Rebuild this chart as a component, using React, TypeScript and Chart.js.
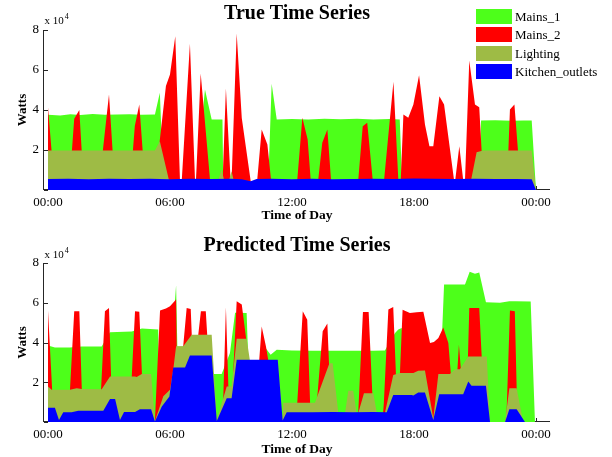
import React, { useEffect, useRef } from 'react';
import { Chart, registerables } from 'chart.js';

Chart.register(...registerables);

type Pt = [number, number]; // [hour of day, watts]

const seriesNames = ['Mains_1', 'Mains_2', 'Lighting', 'Kitchen_outlets'];
const seriesColours = ['#4dff1a', '#ff0000', '#9ebb45', '#0000ff'];
const hourTicks = [0, 6, 12, 18, 24];
const hourTickLabels = ['00:00', '06:00', '12:00', '18:00', '00:00'];
const wattTicks = [0, 20000, 40000, 60000, 80000];

// ---- measured (true) consumption ----
const trueMains1: Pt[] = [
  [0, 37600], [0.6, 37300], [1.1, 37900], [1.6, 37500], [2.2, 38000], [2.8, 37600], [3.4, 37700],
  [4.0, 37900], [4.6, 37600], [5.26, 37700], [5.5, 48600], [5.68, 4000], [7.28, 4000], [7.72, 50300],
  [8.05, 35200], [8.58, 35200], [8.62, 3000], [10.83, 3000], [11.0, 53100], [11.25, 35200], [12.0, 35500],
  [12.8, 35300], [13.6, 35600], [14.4, 35400], [15.2, 35600], [16.0, 35300], [16.8, 35500], [17.3, 35200],
  [17.42, 3000], [21.2, 3000], [21.3, 34700], [22.0, 34900], [22.8, 34600], [23.4, 34800], [23.79, 34800],
  [24.0, 0],
];
const trueMains2: Pt[] = [
  [0, 41400], [0.18, 19000], [0.3, 0],
  [1.05, 0], [1.17, 19000], [1.29, 35600], [1.54, 40000], [1.66, 19000], [1.78, 0],
  [2.58, 0], [2.69, 19000], [3.0, 47700], [3.18, 19000], [3.3, 0],
  [4.05, 0], [4.17, 19000], [4.27, 32000], [4.49, 42700], [4.66, 19000], [4.78, 0],
  [5.22, 0], [5.8, 52000], [6.0, 57800], [6.26, 76900], [6.49, 5000], [6.58, 5000], [6.98, 73100],
  [7.23, 5000], [7.28, 5000], [7.51, 58300], [7.97, 5000], [8.05, 0],
  [8.5, 0], [8.59, 5000], [8.75, 50800], [8.98, 5000], [9.03, 5000], [9.28, 78300], [9.53, 36000],
  [9.97, 4400], [10.05, 0],
  [10.2, 0], [10.29, 5000], [10.51, 30200], [10.79, 22700], [10.97, 5000], [11.05, 0],
  [12.18, 0], [12.26, 5000], [12.51, 36100], [12.77, 25200], [12.92, 5000], [13.0, 0],
  [13.2, 0], [13.29, 5000], [13.49, 23600], [13.74, 30200], [13.92, 5000], [14.0, 0],
  [15.18, 0], [15.26, 5000], [15.48, 31900], [15.7, 33600], [15.97, 5000], [16.05, 0],
  [16.45, 0], [16.53, 5000], [16.99, 54100], [17.23, 5000], [17.35, 5000], [17.48, 37800], [17.72, 36100],
  [17.97, 42700], [18.25, 57400], [18.54, 32700], [18.76, 21900], [18.95, 21900], [19.25, 46900],
  [19.48, 42700], [19.97, 5000], [20.03, 5000], [20.23, 21900], [20.42, 5000], [20.51, 5000],
  [20.72, 64800], [21.0, 42700], [21.21, 41400], [21.33, 19000], [21.45, 0],
  [22.55, 0], [22.64, 19000], [22.72, 40200], [22.94, 42700], [23.12, 19000], [23.22, 0], [24.0, 0],
];
const trueLighting: Pt[] = [
  [0, 19700], [1.0, 19800], [2.0, 19700], [3.0, 19800], [4.0, 19700], [5.26, 19700], [5.5, 24400],
  [5.97, 4000], [8.35, 4000], [8.54, 10200], [8.68, 4000], [8.88, 4000], [9.03, 9400], [9.15, 4000],
  [20.79, 4000], [21.08, 18900], [21.4, 19700], [22.5, 19700], [23.79, 19700], [24.0, 0],
];
const trueKitchen: Pt[] = [
  [0, 5500], [1.0, 5600], [2.0, 5400], [3.0, 5600], [4.0, 5500], [5.0, 5600], [6.0, 5400], [7.0, 5600],
  [8.0, 5500], [9.0, 5600], [9.53, 5400], [9.97, 4400], [10.26, 5500], [11.0, 5600], [12.0, 5400],
  [13.0, 5600], [14.0, 5400], [15.0, 5500], [16.0, 5600], [17.0, 5500], [18.0, 5700], [19.0, 5600],
  [20.0, 5500], [21.0, 5600], [22.0, 5500], [23.0, 5500], [23.79, 5400], [24.0, 0],
];

// ---- disaggregated (predicted) consumption ----
const predMains1: Pt[] = [
  [0, 38500], [0.34, 37500], [1.08, 37500], [1.66, 38000], [2.64, 38000], [3.05, 45100], [4.12, 45500],
  [4.62, 47000], [5.42, 46500], [5.5, 5000], [6.2, 55000], [6.3, 68800], [6.36, 38000], [7.9, 38000],
  [8.07, 24200], [8.54, 24200], [8.95, 34700], [9.2, 55000], [9.77, 54900], [9.85, 30000], [10.4, 30000],
  [10.72, 37000], [10.95, 33800], [11.25, 36400], [12.0, 36000], [13.0, 35800], [14.0, 35900],
  [15.0, 35800], [16.0, 35900], [16.57, 36000], [17.07, 44800], [17.23, 46500], [17.4, 47300],
  [17.5, 35000], [19.36, 39000], [19.48, 69200], [20.51, 69200], [20.74, 75600], [21.0, 74600],
  [21.21, 75200], [21.54, 60300], [22.23, 60000], [22.69, 60800], [23.0, 60700], [23.74, 60600],
  [23.95, 0],
];
const predMains2: Pt[] = [
  [0, 56100], [0.2, 17000], [0.3, 0],
  [1.0, 0], [1.08, 16000], [1.29, 55700], [1.54, 55700], [1.66, 17000], [1.75, 0],
  [2.55, 0], [2.61, 16500], [2.8, 55700], [3.0, 57400], [3.1, 23000], [3.2, 0],
  [4.05, 0], [4.12, 23000], [4.28, 55700], [4.49, 55500], [4.62, 24000], [4.7, 0],
  [5.2, 0], [5.26, 1000], [5.51, 56100], [5.8, 57100], [6.0, 58200], [6.3, 61600], [6.33, 38100], [6.4, 0],
  [6.58, 0], [6.65, 38100], [6.82, 57400], [7.02, 56900], [7.07, 43900], [7.15, 0],
  [7.33, 0], [7.39, 43900], [7.52, 55700], [7.76, 55700], [7.83, 43900], [7.9, 0],
  [8.55, 0], [8.62, 12000], [8.75, 57700], [8.87, 18000], [8.95, 0],
  [9.05, 0], [9.11, 25000], [9.28, 60700], [9.53, 59100], [9.74, 42300], [9.8, 0],
  [10.33, 0], [10.39, 31300], [10.51, 48100], [10.72, 38000], [10.83, 31300], [10.9, 0],
  [12.2, 0], [12.26, 9700], [12.53, 55700], [12.75, 51500], [12.89, 9700], [12.95, 0],
  [13.18, 0], [13.24, 12000], [13.51, 45600], [13.74, 49500], [13.82, 29600], [13.9, 0],
  [15.2, 0], [15.26, 5000], [15.49, 55400], [15.77, 55400], [15.95, 14500], [16.05, 0],
  [16.45, 0], [16.52, 10000], [16.74, 56600], [16.98, 57900], [17.11, 24600], [17.2, 0],
  [17.26, 0], [17.31, 24600], [17.44, 56500], [17.8, 54900], [18.13, 55200], [18.46, 55500],
  [18.79, 39700], [18.98, 40200], [19.2, 42300], [19.44, 47600], [19.69, 39700], [19.81, 24600], [19.9, 0],
  [20.08, 0], [20.13, 25000], [20.21, 38900], [20.31, 26000], [20.36, 0],
  [20.58, 0], [20.65, 31000], [20.72, 57400], [21.21, 57400], [21.33, 33000], [21.4, 0],
  [22.5, 0], [22.56, 6000], [22.72, 56100], [22.96, 55700], [23.05, 17000], [23.12, 0], [24.0, 0],
];
const predLighting: Pt[] = [
  [0, 17800], [0.18, 16200], [1.08, 16200], [1.41, 17000], [1.66, 16600], [2.64, 16500], [3.05, 22900],
  [4.28, 22900], [4.36, 22600], [4.61, 24100], [5.07, 24100], [5.26, 500], [5.67, 13000], [6.0, 16200],
  [6.16, 26300], [6.3, 38100], [6.65, 38100], [7.07, 43900], [8.05, 43900], [8.3, 1000], [8.79, 17800],
  [9.03, 17800], [9.28, 41900], [9.77, 41900], [9.93, 31000], [11.3, 31000], [11.54, 1000], [11.57, 9700],
  [13.13, 9700], [13.84, 29600], [14.0, 29600], [14.28, 4500], [14.61, 4500], [14.77, 15700],
  [15.01, 15700], [15.18, 4500], [15.26, 4500], [15.54, 14500], [16.0, 14500], [16.17, 4500],
  [16.57, 4500], [16.98, 23700], [17.31, 24600], [17.97, 24600], [18.21, 25800], [18.54, 25900],
  [18.95, 1900], [19.2, 24200], [19.77, 24200], [20.02, 26600], [20.26, 26600], [20.67, 33000],
  [21.58, 33000], [21.74, 0], [22.48, 0], [22.69, 17000], [23.05, 17000], [23.37, 0], [24.0, 0],
];
const predKitchen: Pt[] = [
  [0, 7200], [0.34, 7200], [0.54, 1000], [0.75, 4900], [1.16, 4900], [1.49, 5700], [2.72, 5700],
  [3.05, 11600], [3.3, 11600], [3.54, 1000], [3.74, 5000], [4.28, 5000], [4.52, 6400], [5.07, 6400],
  [5.26, 300], [5.59, 7700], [5.97, 12800], [6.16, 27400], [6.74, 27400], [6.98, 33500], [8.05, 33500],
  [8.3, 500], [8.79, 12000], [9.03, 12000], [9.28, 31300], [11.3, 31300], [11.54, 700], [11.74, 4900],
  [13.0, 4900], [14.0, 5000], [15.0, 4900], [16.0, 5000], [16.66, 4900], [16.98, 13600], [17.89, 13600],
  [17.97, 13300], [18.21, 14800], [18.54, 14800], [18.95, 1000], [19.24, 14000], [20.42, 14000],
  [20.67, 20400], [20.83, 18200], [21.54, 18200], [21.74, 0], [22.48, 0], [22.69, 6400], [23.05, 6400],
  [23.46, 0], [24.0, 0],
];

const FONT = "'Liberation Serif', 'Times New Roman', Times, serif";
const PAGE_W = 612;

interface PanelProps {
  title: string;
  series: Pt[][];
  height: number;
  plotTop: number;
  plotBottom: number;
  titleBase: number;
  exponentBase: number;
  xTitleBase: number;
  legend: boolean;
  offsetTop: number;
}

function Panel(p: PanelProps) {
  const ref = useRef<HTMLCanvasElement | null>(null);

  useEffect(() => {
    const canvas = ref.current;
    if (!canvas) return;

    const decor = {
      id: 'decor',
      beforeDatasetsDraw(chart: any) {
        const { ctx, chartArea: a, scales } = chart;
        const x = scales.x;
        const y = scales.y;
        ctx.save();
        ctx.strokeStyle = '#262626';
        ctx.lineWidth = 1;
        ctx.beginPath();
        ctx.moveTo(a.left - 0.5, a.top);
        ctx.lineTo(a.left - 0.5, a.bottom);
        ctx.moveTo(a.left - 1, a.bottom - 0.5);
        ctx.lineTo(a.right, a.bottom - 0.5);
        for (const v of wattTicks) {
          const py = Math.round(y.getPixelForValue(v)) + 0.5;
          ctx.moveTo(a.left, py);
          ctx.lineTo(a.left + 4, py);
        }
        for (const h of hourTicks) {
          const px = Math.round(x.getPixelForValue(h)) + 0.5;
          ctx.moveTo(px, a.bottom);
          ctx.lineTo(px, a.bottom - 4);
        }
        ctx.stroke();
        ctx.restore();
      },
      afterDraw(chart: any) {
        const { ctx, chartArea: a } = chart;
        const cx = (a.left + a.right) / 2;
        ctx.save();
        ctx.fillStyle = '#000';
        ctx.textBaseline = 'alphabetic';

        ctx.font = `bold 20px ${FONT}`;
        ctx.textAlign = 'center';
        ctx.fillText(p.title, cx, p.titleBase);

        ctx.font = `bold 13.5px ${FONT}`;
        ctx.fillText('Time of Day', cx, p.xTitleBase);

        ctx.save();
        ctx.translate(26, (a.top + a.bottom) / 2);
        ctx.rotate(-Math.PI / 2);
        ctx.font = `bold 13px ${FONT}`;
        ctx.fillText('Watts', 0, 0);
        ctx.restore();

        ctx.textAlign = 'left';
        ctx.font = `11px ${FONT}`;
        const base = 'x 10';
        ctx.fillText(base, 44.5, p.exponentBase);
        const w = ctx.measureText(base).width;
        ctx.font = `8px ${FONT}`;
        ctx.fillText('4', 44.5 + w + 1, p.exponentBase - 5);

        if (p.legend) {
          ctx.font = `13px ${FONT}`;
          seriesNames.forEach((name, i) => {
            const top = 9 + Math.round(i * 18.33);
            ctx.fillStyle = seriesColours[i];
            ctx.fillRect(476, top, 36, 15);
            ctx.fillStyle = '#000';
            ctx.fillText(name, 515, top + 12);
          });
        }
        ctx.restore();
      },
    };

    const chart = new Chart(canvas, {
      type: 'line',
      data: {
        datasets: p.series.map((pts, i) => ({
          label: seriesNames[i],
          data: pts.map(([h, w]) => ({ x: h, y: w })),
          fill: 'origin',
          backgroundColor: seriesColours[i],
          borderColor: 'rgba(0,0,0,0)',
          borderWidth: 0,
          pointRadius: 0,
          tension: 0,
          order: p.series.length - i,
        })),
      },
      options: {
        animation: false,
        responsive: false,
        devicePixelRatio: 1,
        events: [],
        layout: { padding: { top: p.plotTop, right: PAGE_W - 550, left: 0, bottom: 0 } },
        plugins: {
          legend: { display: false },
          tooltip: { enabled: false },
          title: { display: false },
        },
        scales: {
          x: {
            type: 'linear',
            min: -0.197,
            max: 24.69,
            grid: { display: false, drawTicks: false },
            border: { display: false },
            afterBuildTicks: (s: any) => {
              s.ticks = hourTicks.map((v) => ({ value: v }));
            },
            afterFit: (s: any) => {
              s.height = p.height - p.plotBottom;
            },
            ticks: {
              autoSkip: false,
              maxRotation: 0,
              padding: 5,
              color: '#000',
              font: { family: FONT, size: 13 },
              callback: (v: any) => {
                const k = hourTicks.indexOf(Number(v));
                return k >= 0 ? hourTickLabels[k] : '';
              },
            },
          },
          y: {
            type: 'linear',
            min: 0,
            max: 80000,
            grid: { display: false, drawTicks: false },
            border: { display: false },
            afterBuildTicks: (s: any) => {
              s.ticks = wattTicks.map((v) => ({ value: v }));
            },
            afterFit: (s: any) => {
              s.width = 44;
            },
            ticks: {
              padding: 5,
              color: '#000',
              font: { family: FONT, size: 13 },
              callback: (v: any) => (Number(v) === 0 ? '' : String(Number(v) / 10000)),
            },
          },
        },
      } as any,
      plugins: [decor],
    });
    return () => chart.destroy();
  }, []);

  return (
    <canvas
      ref={ref}
      width={PAGE_W}
      height={p.height}
      style={{ position: 'absolute', left: 0, top: p.offsetTop, width: PAGE_W, height: p.height, display: 'block' }}
    />
  );
}

export default function App() {
  return (
    <div style={{ position: 'fixed', left: 0, top: 0, width: PAGE_W, height: 457, background: '#fff', overflow: 'hidden' }}>
      <Panel
        title="True Time Series"
        series={[trueMains1, trueMains2, trueLighting, trueKitchen]}
        height={228}
        offsetTop={0}
        plotTop={30}
        plotBottom={190}
        titleBase={18.5}
        exponentBase={24.3}
        xTitleBase={218.5}
        legend={true}
      />
      <Panel
        title="Predicted Time Series"
        series={[predMains1, predMains2, predLighting, predKitchen]}
        height={229}
        offsetTop={228}
        plotTop={35}
        plotBottom={194}
        titleBase={22.7}
        exponentBase={29.7}
        xTitleBase={225}
        legend={false}
      />
    </div>
  );
}
